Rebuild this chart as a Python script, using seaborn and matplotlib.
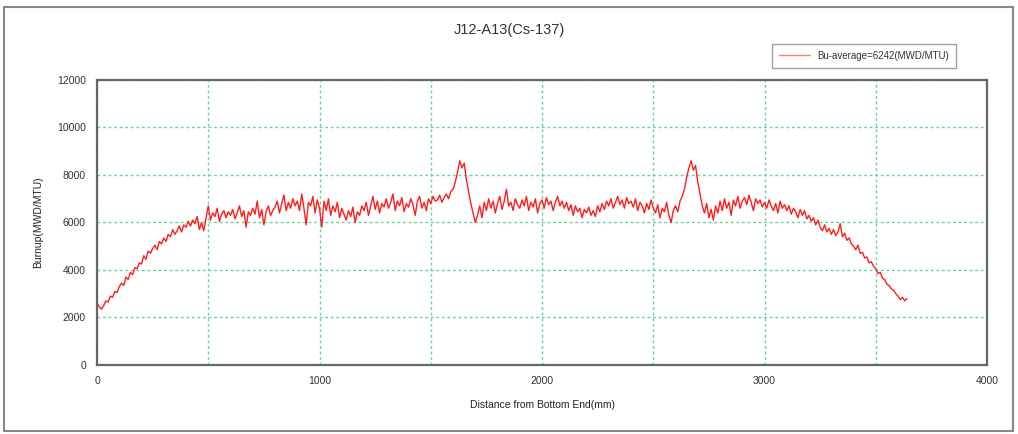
import numpy as np
import pandas as pd
import seaborn as sns
import matplotlib
matplotlib.use("Agg")
import matplotlib.pyplot as plt
from matplotlib.patches import Rectangle
from matplotlib.lines import Line2D

# Burnup readings taken every 10 mm from the bottom end
step_mm = 10
burnup = [
    2600, 2450, 2350, 2500, 2700, 2650, 2900, 2850, 3100, 3050,
    3300, 3450, 3350, 3700, 3600, 3900, 3800, 4100, 4050, 4300,
    4250, 4600, 4450, 4800, 4700, 4900, 5050, 4850, 5200, 5100,
    5350, 5200, 5500, 5400, 5700, 5500, 5650, 5850, 5600, 5900,
    5800, 6050, 5850, 6100, 5950, 6250, 5700, 6000, 5650, 6200,
    6700, 6100, 6400, 6250, 6600, 6050, 6350, 6500, 6200, 6450,
    6300, 6550, 6150, 6400, 6700, 6250, 6500, 5800, 6450, 6300,
    6600, 6350, 6900, 6200, 6550, 5900, 6450, 6700, 6300, 6500,
    6650, 6900, 6400, 6800, 7150, 6500, 6850, 6600, 7000, 6700,
    6900, 6500, 7200, 6600, 5900, 6850, 6700, 7100, 6400, 6950,
    6600, 5800, 6900, 6500, 7000, 6300, 6700, 6450, 6850, 6200,
    6600, 6350, 6100, 6500, 6250, 6650, 6000, 6450, 6300, 6700,
    6500, 6850, 6300, 6700, 7100, 6550, 6900, 6400, 6800, 6650,
    7000, 6600, 6850, 7200, 6500, 6900, 6700, 7050, 6450, 6800,
    6650, 7000, 6750, 6300, 6900, 7100, 6600, 6850, 6500, 7000,
    6800, 7100, 6900, 6950, 7150, 6850, 7050, 7200, 7000, 7300,
    7400, 7700, 8100, 8600, 8300, 8500, 7800, 7300, 6800, 6400,
    6000, 6300, 6700, 6200, 6850, 6500, 7000, 6600, 6900, 6400,
    6800, 7100, 6550, 6900, 7400, 6700, 6850, 6500, 7000, 6750,
    6600, 6950, 6700, 7100, 6500, 6850, 6650, 7000, 6400, 6800,
    6950, 6600, 7050, 6750, 6900, 6500, 6850, 7100, 6700, 6900,
    6600, 6850, 6500, 6750, 6300, 6700, 6450, 6600, 6200, 6550,
    6400, 6650, 6300, 6500, 6250, 6700, 6450, 6800, 6550, 6900,
    6700, 7000, 6600, 6850, 7100, 6750, 6950, 6600, 7050, 6800,
    6900, 6650, 7000, 6500, 6850, 6700, 6400, 6800, 6550, 6950,
    6600, 6400, 6750, 6200, 6600, 6450, 6850, 6300, 6000, 6500,
    6700, 6450, 6900, 7100, 7400, 7900, 8300, 8600, 8200, 8400,
    7700, 7200, 6700, 6400, 6800, 6200, 6550, 6100, 6700, 6400,
    6900, 6500, 7000, 6600, 6850, 6300, 6950, 6700, 7100, 6600,
    6900, 7050, 6750, 7150, 6850, 6500, 7000, 6800, 6950, 6650,
    6850, 6600, 6950, 6700, 6500, 6800, 6400, 6900, 6600, 6750,
    6500, 6700, 6350, 6600, 6450, 6200, 6550, 6300, 6500, 6150,
    6300, 6050, 6200, 5900, 6100, 5800, 5650, 5900, 5600, 5750,
    5500, 5700, 5450, 5600, 5950, 5400, 5550, 5250, 5350, 5100,
    5000, 4850, 5050, 4700, 4750, 4500, 4550, 4300, 4350, 4150,
    4050, 3850, 3900, 3650, 3600, 3400, 3350, 3200, 3150, 3000,
    2900, 2750, 2850, 2700, 2800,
]
distance = [i * step_mm for i in range(len(burnup))]
legend_label = "Bu-average=6242(MWD/MTU)"

df = pd.DataFrame({"distance": distance, "burnup": burnup})

sns.set_theme(style="white")
plt.rcParams["font.family"] = ["Liberation Sans", "DejaVu Sans"]

fig = plt.figure(figsize=(10.18, 4.34), dpi=100)
ax = fig.add_axes([0.0953, 0.159, 0.8743, 0.6567])

sns.lineplot(data=df, x="distance", y="burnup", ax=ax, color="#ff1e1e",
             linewidth=1.0, estimator=None, legend=False)

ax.set_xlim(0, 4000)
ax.set_ylim(0, 12000)
ax.set_xticks(range(0, 4001, 1000))
ax.set_xticks(range(500, 4000, 1000), minor=True)
ax.set_yticks(range(0, 12001, 2000))
ax.grid(True, which="both", color="#66d29c", linestyle=(0, (2, 2)), linewidth=1.0)
ax.tick_params(axis="both", which="major", labelsize=7.5, colors="#333333",
               length=3, direction="in", pad=8)
ax.tick_params(axis="x", which="minor", length=0)
for s in ax.spines.values():
    s.set_color("#666666")
    s.set_linewidth(1.6)

ax.set_xlabel("Distance from Bottom End(mm)", fontsize=7.5, color="#222222", labelpad=10)
ax.set_ylabel("Burnup(MWD/MTU)", fontsize=7.5, color="#222222", labelpad=10)

fig.text(0.5, 0.93, "J12-A13(Cs-137)", ha="center", va="center", fontsize=10.5, color="#333333")

handle = Line2D([], [], color="#ff7a7a", linewidth=1.0)
leg = fig.legend([handle], [legend_label], loc="upper right", bbox_to_anchor=(0.944, 0.91),
                 fontsize=7, frameon=True, fancybox=False, handlelength=3.2,
                 borderpad=0.7, edgecolor="#888888")
leg.get_frame().set_linewidth(1.0)
for t in leg.get_texts():
    t.set_color("#333333")

# outer frame around the whole picture
fig.patches.append(Rectangle((0.004, 0.006), 0.991, 0.978, transform=fig.transFigure,
                             fill=False, edgecolor="#888888", linewidth=1.5))

fig.savefig("out.png", dpi=100)
